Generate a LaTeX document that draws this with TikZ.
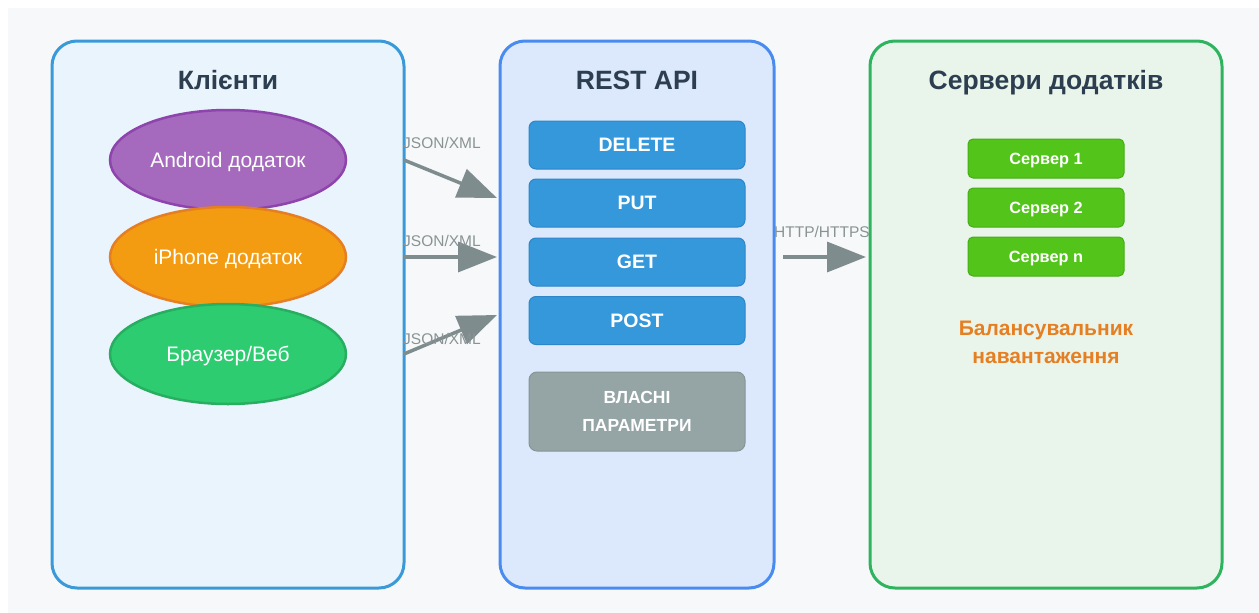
\documentclass[tikz,border=0pt]{standalone}
\usepackage{fontspec}
\setmainfont{Liberation Sans}
\usetikzlibrary{shapes.geometric,arrows.meta}

\definecolor{pagebg}{HTML}{F7F8FA}
\definecolor{titlecol}{HTML}{2C3E50}
\definecolor{clientfill}{HTML}{EAF4FC}
\definecolor{clientline}{HTML}{3A9AD9}
\definecolor{apifill}{HTML}{DCE9FC}
\definecolor{apiline}{HTML}{4A8BF0}
\definecolor{srvfill}{HTML}{E9F5EA}
\definecolor{srvline}{HTML}{2EB45F}
\definecolor{androidfill}{HTML}{A569BD}
\definecolor{androidline}{HTML}{8E44AD}
\definecolor{iphonefill}{HTML}{F39C12}
\definecolor{iphoneline}{HTML}{E67E22}
\definecolor{webfill}{HTML}{2ECC71}
\definecolor{webline}{HTML}{27AE60}
\definecolor{methodfill}{HTML}{3498DB}
\definecolor{methodline}{HTML}{2E86C8}
\definecolor{paramfill}{HTML}{95A5A6}
\definecolor{paramline}{HTML}{869596}
\definecolor{serverfill}{HTML}{52C41A}
\definecolor{serverline}{HTML}{47AD16}
\definecolor{arrowcol}{HTML}{7F8C8D}
\definecolor{labelcol}{HTML}{8A9393}
\definecolor{balancer}{HTML}{E67E22}

\tikzset{
  panel/.style={draw=#1, line width=3pt, rounded corners=25pt, inner sep=0pt, outer sep=0pt},
  paneltitle/.style={font=\fontsize{26.5}{30}\selectfont\bfseries, text=titlecol, text depth=0pt},
  client/.style={ellipse, draw=#1line, fill=#1fill, line width=2.5pt,
    minimum width=236pt, minimum height=100pt, inner sep=0pt, outer sep=0pt,
    text=white, text depth=0pt, font=\fontsize{21}{24}\selectfont},
  method/.style={draw=methodline, fill=methodfill, line width=1pt,
    rounded corners=7pt, minimum width=216pt, minimum height=48pt,
    inner sep=0pt, text=white, text depth=0pt, font=\fontsize{19.5}{22}\selectfont\bfseries},
  params/.style={draw=paramline, fill=paramfill, line width=1pt,
    rounded corners=8pt, minimum width=216pt, minimum height=79pt,
    inner sep=0pt, text=white, align=center,
    font=\fontsize{17.5}{28}\selectfont\bfseries},
  server/.style={draw=serverline, fill=serverfill, line width=1pt,
    rounded corners=5pt, minimum width=156pt, minimum height=39pt,
    inner sep=0pt, text=white, text depth=0pt, font=\fontsize{16.3}{18}\selectfont\bfseries},
  flow/.style={draw=arrowcol, line width=3.5pt,
    -{Triangle[length=39pt,width=30pt]}},
  flowlabel/.style={text=labelcol, font=\fontsize{15.5}{17}\selectfont, inner sep=0pt}
}

\begin{document}
\begin{tikzpicture}[x=1pt, y=-1pt]
  \useasboundingbox (0,0) rectangle (1259,613);
  \fill[pagebg] (8,8) rectangle (1259,613);

  % three columns
  \node[panel=clientline, fill=clientfill, minimum width=352pt, minimum height=547pt]
    (clients) at (228,314.5) {};
  \node[panel=apiline, fill=apifill, minimum width=274pt, minimum height=547pt]
    (api) at (637,314.5) {};
  \node[panel=srvline, fill=srvfill, minimum width=352pt, minimum height=547pt]
    (servers) at (1046,314.5) {};

  \node[paneltitle] (clientsTitle) at (228,80) {Клієнти};
  \node[paneltitle] (apiTitle) at (637,80) {REST API};
  \node[paneltitle] (serversTitle) at (1046,80) {Сервери додатків};

  % client applications
  \node[client=android] (android) at (228,160) {Android додаток};
  \node[client=iphone] (iphone) at (228,257) {iPhone додаток};
  \node[client=web] (web) at (228,354) {Браузер/Веб};

  % HTTP methods
  \node[method] (delete) at (637,145) {DELETE};
  \node[method] (put) at (637,203) {PUT};
  \node[method] (get) at (637,262) {GET};
  \node[method] (post) at (637,320.5) {POST};
  \node[params] (custom) at (637,411.5) {ВЛАСНІ\\ПАРАМЕТРИ};

  % application servers
  \node[server] (srv1) at (1046,158.5) {Сервер 1};
  \node[server] (srv2) at (1046,207.5) {Сервер 2};
  \node[server] (srvn) at (1046,256.5) {Сервер n};
  \node[text=balancer, align=center, font=\fontsize{21}{28}\selectfont\bfseries]
    (balancer) at (1046,342) {Балансувальник\\навантаження};

  % request flows
  \coordinate (in1) at (497,198);
  \coordinate (in2) at (497,257);
  \coordinate (in3) at (497,315);
  \draw[flow] (clients.east |- android.center) -- (in1);
  \draw[flow] (clients.east |- iphone.center) -- (in2);
  \draw[flow] (clients.east |- web.center) -- (in3);
  \node[flowlabel, anchor=west] (lbl1) at (403,143) {JSON/XML};
  \node[flowlabel, anchor=west] (lbl2) at (403,241) {JSON/XML};
  \node[flowlabel, anchor=west] (lbl3) at (403,339) {JSON/XML};

  \coordinate (outStart) at (783,257);
  \coordinate (outEnd) at (866,257);
  \draw[flow] (outStart) -- (outEnd);
  \node[flowlabel] (lblHttp) at (822,232) {HTTP/HTTPS};
\end{tikzpicture}
\end{document}
